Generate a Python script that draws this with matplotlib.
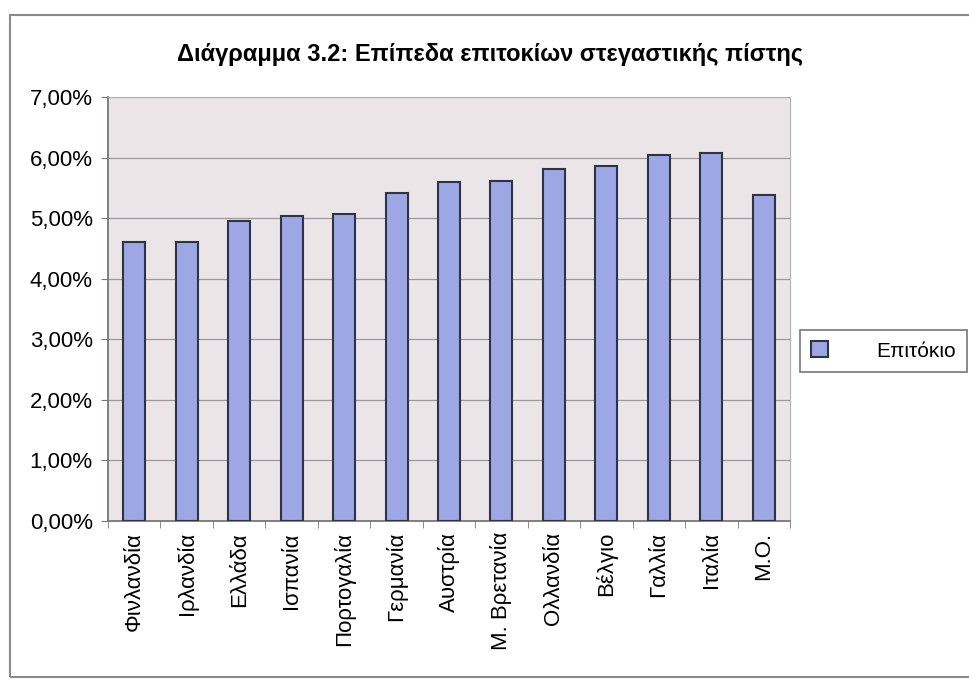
import matplotlib
matplotlib.use('Agg')
import matplotlib.pyplot as plt
from matplotlib.ticker import FuncFormatter, FixedLocator
from matplotlib.patches import Rectangle

plt.rcParams['font.family'] = ['Liberation Sans', 'DejaVu Sans']

countries = ['Φινλανδία', 'Ιρλανδία', 'Ελλάδα', 'Ισπανία', 'Πορτογαλία', 'Γερμανία',
             'Αυστρία', 'Μ. Βρετανία', 'Ολλανδία', 'Βέλγιο', 'Γαλλία', 'Ιταλία', 'Μ.Ο.']
rates = [4.61, 4.61, 4.95, 5.04, 5.07, 5.41, 5.59, 5.61, 5.81, 5.86, 6.05, 6.07, 5.38]

fig = plt.figure(figsize=(9.7, 6.8), dpi=100)
fig.patch.set_facecolor('white')

# chart frame (scanned excel border)
fig.patches.append(Rectangle((10 / 970, 3 / 680), 1.2, 662 / 680, transform=fig.transFigure,
                             fill=False, edgecolor='#8a8a8a', lw=1.5))

ax = fig.add_axes([108 / 970, 1 - 521 / 680, 682 / 970, 424 / 680])
ax.set_facecolor('#ebe5e8')

x = range(len(countries))
ax.bar(x, rates, width=0.42, color='#9da7e3', edgecolor='#2f3346', linewidth=1.5,
       label='Επιτόκιο', zorder=3)

ax.set_xlim(-0.5, len(countries) - 0.5)
ax.set_ylim(0, 7)
ax.set_yticks([0, 1, 2, 3, 4, 5, 6, 7])
ax.yaxis.set_major_formatter(FuncFormatter(lambda v, p: f'{v:.2f}%'.replace('.', ',')))
ax.grid(axis='y', color='#9a9a9a', lw=0.9, zorder=0)

ax.set_xticks(list(x))
ax.set_xticklabels(countries, rotation=90, fontsize=16)
ax.tick_params(axis='x', length=0, pad=8)
ax.xaxis.set_minor_locator(FixedLocator([i - 0.5 for i in range(len(countries) + 1)]))
ax.tick_params(axis='x', which='minor', length=5, color='#777777')
ax.tick_params(axis='y', labelsize=16, length=5, color='#777777', pad=6)

for s in ['top', 'right']:
    ax.spines[s].set_color('#b0b0b0')
for s in ['left', 'bottom']:
    ax.spines[s].set_color('#777777')
    ax.spines[s].set_linewidth(1.3)

fig.text(490 / 970, 1 - 55 / 680, 'Διάγραμμα 3.2: Επίπεδα επιτοκίων στεγαστικής πίστης',
         ha='center', va='center', fontsize=17, fontweight='bold')

leg = fig.legend(loc='center left', bbox_to_anchor=(800 / 970, 1 - 351 / 680),
                 fontsize=15, frameon=True, fancybox=False, handlelength=0.8,
                 handleheight=0.8, handletextpad=2.3, borderpad=0.55, borderaxespad=0)
leg.get_frame().set_edgecolor('#555555')
leg.get_frame().set_linewidth(1.2)

fig.savefig('out.png', dpi=100)
